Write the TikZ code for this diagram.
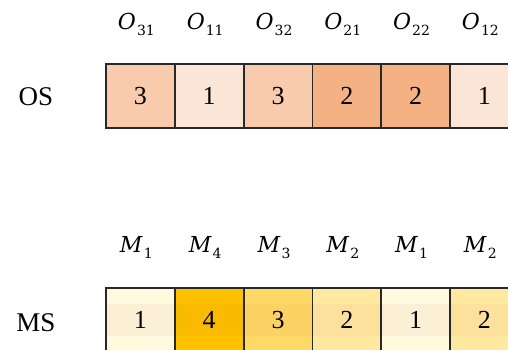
\documentclass[tikz,border=0pt]{standalone}
\usepackage{fontspec}
\setmainfont{Liberation Serif}
\newfontfamily\labfont{DejaVu Serif}
\definecolor{osA}{RGB}{248,203,173}
\definecolor{osB}{RGB}{251,229,214}
\definecolor{osC}{RGB}{244,177,131}
\definecolor{msOne}{RGB}{255,250,222}
\definecolor{msOneB}{RGB}{251,239,214}
\definecolor{msFour}{RGB}{255,192,0}
\definecolor{msFourB}{RGB}{250,186,0}
\definecolor{msThree}{RGB}{255,217,102}
\definecolor{msThreeB}{RGB}{252,210,100}
\definecolor{msTwo}{RGB}{255,232,160}
\definecolor{msTwoB}{RGB}{251,225,156}
\definecolor{edge}{RGB}{40,40,40}
\newcommand\glab[2]{{\labfont\fontsize{22}{22}\selectfont\textit{#1}\kern1pt\raisebox{-6pt}{\fontsize{14}{14}\selectfont #2}}}
\tikzset{
  cell/.style={draw=edge, line width=1.8pt, minimum width=68.8pt, minimum height=64pt,
    inner sep=0pt, outer sep=0pt, font=\fontsize{26}{26}\selectfont},
  mscell/.style 2 args={cell, fill=#1,
    path picture={\fill[#2] ([yshift=16pt]path picture bounding box.west) rectangle ([yshift=-16pt]path picture bounding box.east);}},
  rowlab/.style={font=\fontsize{27}{27}\selectfont, inner sep=0pt},
  toplab/.style={inner sep=0pt, anchor=base, text=black}
}
\begin{document}
\begin{tikzpicture}[x=1pt,y=-1pt]
\useasboundingbox (0,0) rectangle (508,350);
\clip (0,0) rectangle (508,350);
\fill[white] (0,0) rectangle (508,350);
% OS row
\node[rowlab] (os) at (36,97) {OS};
\node[cell, fill=osA] (o1) at (140.4,96) {3};
\node[cell, fill=osB] (o2) at (209.2,96) {1};
\node[cell, fill=osA] (o3) at (278.0,96) {3};
\node[cell, fill=osC] (o4) at (346.8,96) {2};
\node[cell, fill=osC] (o5) at (415.6,96) {2};
\node[cell, fill=osB] (o6) at (484.4,96) {1};
% OS labels
\node[toplab] (lo1) at (136.4,30) {\glab{O}{31}};
\node[toplab] (lo2) at (205.2,30) {\glab{O}{11}};
\node[toplab] (lo3) at (274.0,30) {\glab{O}{32}};
\node[toplab] (lo4) at (342.8,30) {\glab{O}{21}};
\node[toplab] (lo5) at (411.6,30) {\glab{O}{22}};
\node[toplab] (lo6) at (480.4,30) {\glab{O}{12}};
% MS row
\node[rowlab] (ms) at (36,323) {MS};
\node[mscell={msOne}{msOneB}] (m1) at (140.4,320) {1};
\node[mscell={msFour}{msFourB}] (m2) at (209.2,320) {4};
\node[mscell={msThree}{msThreeB}] (m3) at (278.0,320) {3};
\node[mscell={msTwo}{msTwoB}] (m4) at (346.8,320) {2};
\node[mscell={msOne}{msOneB}] (m5) at (415.6,320) {1};
\node[mscell={msTwo}{msTwoB}] (m6) at (484.4,320) {2};
% MS labels
\node[toplab] (lm1) at (136.4,252) {\glab{M}{1}};
\node[toplab] (lm2) at (205.2,252) {\glab{M}{4}};
\node[toplab] (lm3) at (274.0,252) {\glab{M}{3}};
\node[toplab] (lm4) at (342.8,252) {\glab{M}{2}};
\node[toplab] (lm5) at (411.6,252) {\glab{M}{1}};
\node[toplab] (lm6) at (480.4,252) {\glab{M}{2}};
\end{tikzpicture}
\end{document}
